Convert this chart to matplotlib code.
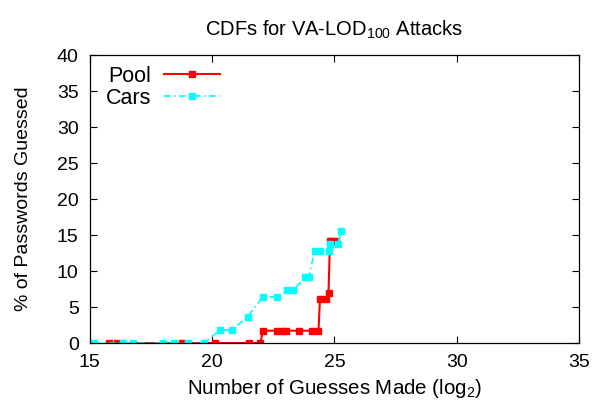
import matplotlib
matplotlib.use("Agg")
import matplotlib.pyplot as plt

plt.rcParams['font.family'] = ['Liberation Sans', 'DejaVu Sans']
plt.rcParams['mathtext.default'] = 'regular'

# data (log2 guesses, % guessed)
pool_x = [15.79, 16.1, 18.75, 20.1, 21.5, 21.97, 22.08, 22.64, 22.84, 23.04,
          23.56, 24.07, 24.35, 24.41, 24.65, 24.76, 24.82, 24.85, 25.05]
pool_y = [0, 0, 0, 0, 0, 0, 1.71, 1.71, 1.71, 1.71,
          1.71, 1.71, 1.71, 6.15, 6.15, 7.0, 14.2, 14.2, 14.2]

cars_x = [15.16, 16.35, 16.76, 17.98, 18.46, 19.02, 19.66, 20.34, 20.83, 21.45,
          22.08, 22.64, 23.07, 23.32, 23.81, 23.95, 24.2, 24.41, 24.77, 24.82,
          25.14, 25.29]
cars_y = [0, 0, 0, 0, 0, 0, 0, 1.83, 1.83, 3.67,
          6.42, 6.42, 7.34, 7.34, 9.17, 9.17, 12.84, 12.84, 12.84, 13.76,
          13.76, 15.6]

x_ticks = [15, 20, 25, 30, 35]
y_ticks = [0, 5, 10, 15, 20, 25, 30, 35, 40]

fig = plt.figure(figsize=(5.95, 4.05), dpi=100)
ax = fig.add_axes([0.151, 0.153, 0.822, 0.711])

ax.plot(pool_x, pool_y, color='#ff0000', lw=1.5, marker='s', ms=4.5,
        label='Pool')
ax.plot(cars_x, cars_y, color='#00ffff', lw=1.2, ls=(0, (4, 2, 1, 2)),
        marker='s', ms=4.5, label='Cars')

ax.set_xlim(15, 35)
ax.set_ylim(0, 40)
ax.set_xticks(x_ticks)
ax.set_yticks(y_ticks)
ax.tick_params(direction='in', top=True, right=True, length=5, width=0.8,
               labelsize=14, pad=8)
for s in ax.spines.values():
    s.set_linewidth(0.9)

ax.set_title('CDFs for VA-LOD$_{100}$ Attacks', fontsize=14.5, pad=14)
ax.set_xlabel('Number of Guesses Made (log$_2$)', fontsize=14.8, labelpad=4)
ax.set_ylabel('% of Passwords Guessed', fontsize=14, labelpad=18)

leg = ax.legend(loc='upper left', markerfirst=False, frameon=False,
                fontsize=15.5, handlelength=2.6, handletextpad=0.6,
                labelspacing=0.05, borderaxespad=0.1,
                bbox_to_anchor=(0.01, 1.0))
for t in leg.get_texts():
    t.set_ha('right')

fig.savefig('out.png', dpi=100)
